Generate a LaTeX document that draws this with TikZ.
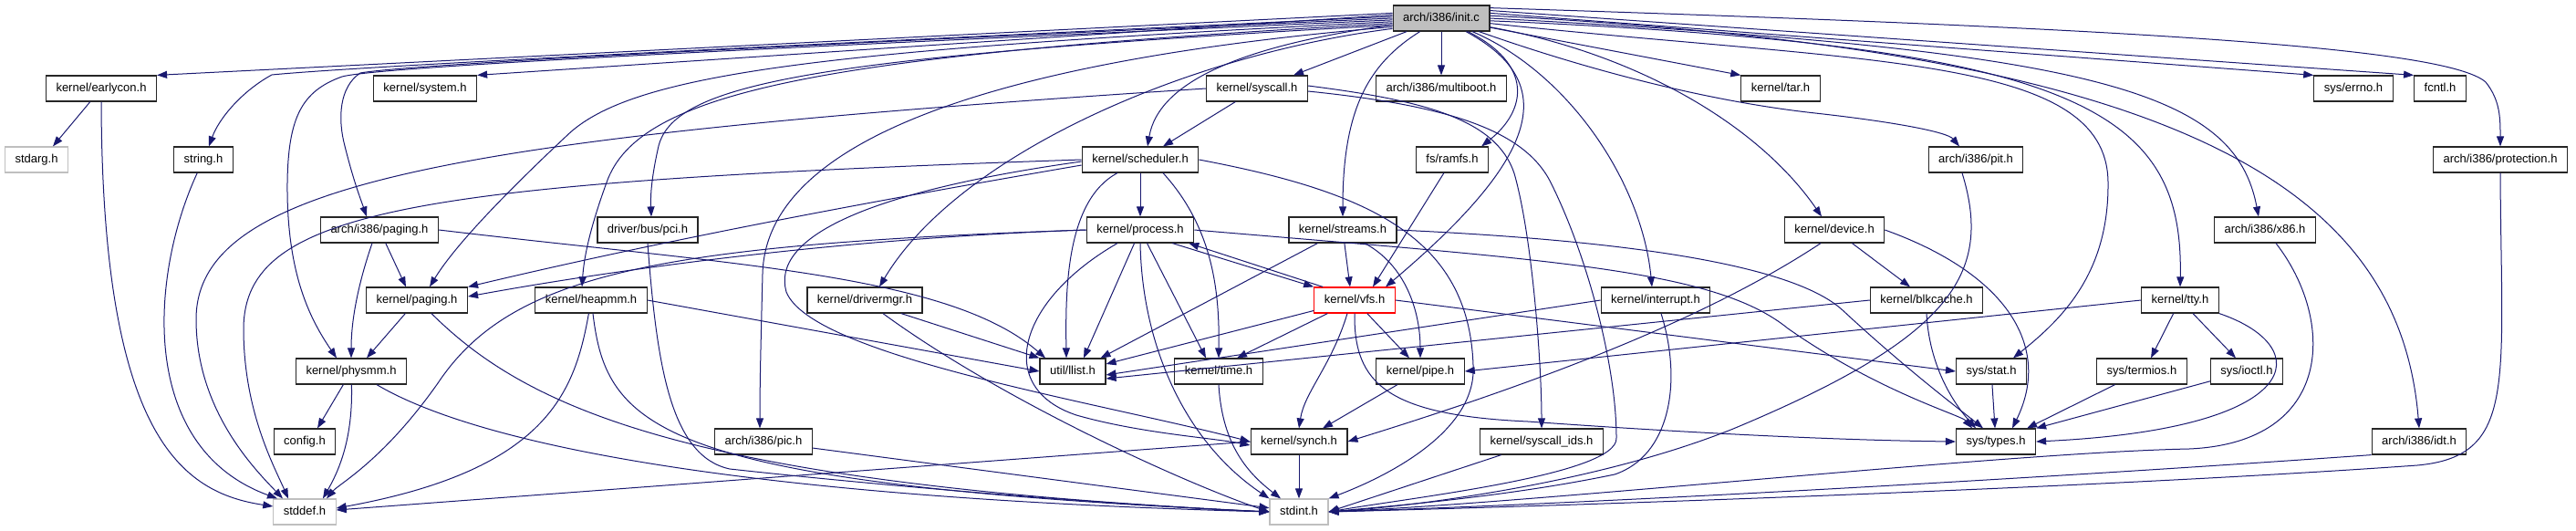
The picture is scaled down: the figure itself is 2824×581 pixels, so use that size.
\documentclass[tikz,border=0pt]{standalone}
\usepackage{fontspec}
\newfontfamily\doxfont{Liberation Sans}
\usetikzlibrary{arrows.meta}
\definecolor{edgeblue}{HTML}{191970}
\definecolor{boxgrey}{HTML}{BFBFBF}
\tikzset{
	hdr/.style={draw=black!85, fill=white, line width=1.2pt, minimum height=28pt, inner xsep=11pt, inner ysep=0pt, text height=9.5pt, text depth=2.8pt, font=\doxfont\fontsize{13}{15}\selectfont},
	syshdr/.style={hdr, draw=boxgrey},
	roothdr/.style={hdr, fill=boxgrey},
	dep/.style={draw=edgeblue, line width=1pt, -{Triangle[length=11pt,width=8pt]}}
}

\begin{document}
\begin{tikzpicture}[x=1pt,y=-1pt]
			\useasboundingbox (0,0) rectangle (2824,581);

			\node[roothdr] (initc) at (1580,20) {arch/i386/init.c};

			\node[hdr] (earlycon) at (111,97) {kernel/earlycon.h};
			\node[hdr] (system) at (466,97) {kernel/system.h};
			\node[hdr] (syscall) at (1378,97) {kernel/syscall.h};
			\node[hdr] (multiboot) at (1580,97) {arch/i386/multiboot.h};
			\node[hdr] (tar) at (1952,97) {kernel/tar.h};
			\node[hdr] (errno) at (2580,97) {sys/errno.h};
			\node[hdr] (fcntl) at (2675,97) {fcntl.h};

			\node[syshdr] (stdarg) at (40,175) {stdarg.h};
			\node[hdr] (stringh) at (223,175) {string.h};
			\node[hdr] (scheduler) at (1250,175) {kernel/scheduler.h};
			\node[hdr] (ramfs) at (1592,175) {fs/ramfs.h};
			\node[hdr] (pit) at (2166,175) {arch/i386/pit.h};
			\node[hdr] (protection) at (2741,175) {arch/i386/protection.h};

			\node[hdr] (archpaging) at (416,252) {arch/i386/paging.h};
			\node[hdr] (pci) at (710,252) {driver/bus/pci.h};
			\node[hdr] (process) at (1250,252) {kernel/process.h};
			\node[hdr] (streams) at (1472,252) {kernel/streams.h};
			\node[hdr] (device) at (2011,252) {kernel/device.h};
			\node[hdr] (x86) at (2483,252) {arch/i386/x86.h};

			\node[hdr] (kpaging) at (457,329) {kernel/paging.h};
			\node[hdr] (heapmm) at (648,329) {kernel/heapmm.h};
			\node[hdr] (drivermgr) at (948,329) {kernel/drivermgr.h};
			\node[hdr, draw=red] (vfs) at (1485,329) {kernel/vfs.h};
			\node[hdr] (interrupt) at (1815,329) {kernel/interrupt.h};
			\node[hdr] (blkcache) at (2112,329) {kernel/blkcache.h};
			\node[hdr] (tty) at (2390,329) {kernel/tty.h};

			\node[hdr] (physmm) at (385,407) {kernel/physmm.h};
			\node[hdr] (llist) at (1176,407) {util/llist.h};
			\node[hdr] (time) at (1336,407) {kernel/time.h};
			\node[hdr] (pipe) at (1557,407) {kernel/pipe.h};
			\node[hdr] (stat) at (2183,407) {sys/stat.h};
			\node[hdr] (termios) at (2348,407) {sys/termios.h};
			\node[hdr] (ioctl) at (2463,407) {sys/ioctl.h};

			\node[hdr] (config) at (334,484) {config.h};
			\node[hdr] (pic) at (837,484) {arch/i386/pic.h};
			\node[hdr] (synch) at (1424,484) {kernel/synch.h};
			\node[hdr] (syscallids) at (1690,484) {kernel/syscall\_ids.h};
			\node[hdr] (types) at (2188,484) {sys/types.h};
			\node[hdr] (idt) at (2652,484) {arch/i386/idt.h};

			\node[syshdr] (stddef) at (334,561) {stddef.h};
			\node[syshdr] (stdint) at (1424,561) {stdint.h};

			\draw[dep] (initc.174) -- (earlycon.north east);
			\draw[dep] (initc.176) -- (system.north east);
			\draw[dep] (initc.178) .. controls (900,48) and (400,72) .. (298,82) .. controls (265,100) and (240,130) .. ([xshift=6pt]stringh.north);
			\draw[dep] (initc.180) .. controls (900,48) and (450,70) .. (395,80) .. controls (372,95) and (370,130) .. (378,160) .. controls (388,200) and (396,220) .. ([xshift=-14pt]archpaging.north);
			\draw[dep] (initc.182) .. controls (900,50) and (420,72) .. (375,84) .. controls (330,100) and (316,130) .. (315,200) .. controls (314,300) and (340,350) .. ([xshift=-16pt]physmm.north);
			\draw[dep] (initc.184) .. controls (900,55) and (690,80) .. (620,150) .. controls (540,225) and (495,275) .. ([xshift=14pt]kpaging.north);
			\draw[dep] (initc.186) .. controls (900,60) and (700,100) .. (665,200) .. controls (645,255) and (640,285) .. ([xshift=-10pt]heapmm.north);
			\draw[dep] (initc.188) .. controls (900,62) and (740,90) .. (722,160) .. controls (714,195) and (713,215) .. ([xshift=4pt]pci.north);
			\draw[dep] (initc.190) .. controls (1100,65) and (840,150) .. (836,300) .. controls (834,380) and (833,420) .. ([xshift=-4pt]pic.north);
			\draw[dep] (initc.192) .. controls (1300,60) and (1050,170) .. ([xshift=16pt]drivermgr.north);
			\draw[dep] (initc) -- ([xshift=-16pt]syscall.north east);
			\draw[dep] (initc) .. controls (1360,50) and (1270,90) .. ([xshift=8pt]scheduler.north);
			\draw[dep] (initc) -- (multiboot);
			\draw[dep] (initc) .. controls (1500,70) and (1472,120) .. (streams.north);
			\draw[dep] (initc) .. controls (1680,70) and (1675,120) .. ([xshift=-8pt]ramfs.north east);
			\draw[dep] (initc) .. controls (1710,90) and (1690,170) .. ([xshift=34pt]vfs.north);
			\draw[dep] (initc) .. controls (1720,80) and (1800,200) .. ([xshift=-4pt]interrupt.north);
			\draw[dep] (initc) -- (tar.north west);
			\draw[dep] (initc) .. controls (1800,60) and (1930,140) .. ([xshift=-14pt]device.north);
			\draw[dep] (initc) .. controls (1750,80) and (1880,112) .. (1990,124) .. controls (2080,134) and (2135,145) .. ([xshift=-18pt]pit.north);
			\draw[dep] (initc.-6) .. controls (2050,70) and (2310,60) .. (2311,200) .. controls (2312,300) and (2260,350) .. ([xshift=24pt]stat.north);
			\draw[dep] (initc.-3) .. controls (2280,50) and (2394,120) .. (tty.north);
			\draw[dep] (initc.0) .. controls (2300,55) and (2450,100) .. ([xshift=-7pt]x86.north);
			\draw[dep] (initc.3) .. controls (2380,55) and (2630,200) .. (idt.north);
			\draw[dep] (initc.6) -- (errno.north west);
			\draw[dep] (initc.9) -- (fcntl.north west);
			\draw[dep] (initc.12) .. controls (2300,30) and (2680,50) .. (2725,90) .. controls (2741,110) and (2741,130) .. (protection.north);

			\draw[dep] (earlycon) -- ([xshift=18pt]stdarg.north);
			\draw[dep] (earlycon.south) .. controls (112,480) and (200,540) .. ([yshift=6pt]stddef.west);
			\draw[dep] (stringh) .. controls (165,300) and (150,490) .. ([xshift=-30pt]stddef.north);
			\draw[dep] (syscall.west) .. controls (500,150) and (215,200) .. (215,350) .. controls (215,450) and (280,515) .. ([xshift=-24pt]stddef.north);
			\draw[dep] (scheduler.west) .. controls (450,200) and (268,230) .. (267,360) .. controls (267,450) and (300,510) .. ([xshift=-18pt]stddef.north);
			\draw[dep] (physmm) .. controls (387,480) and (372,515) .. ([xshift=20pt]stddef.north);
			\draw[dep] (physmm) -- ([xshift=14pt]config.north);
			\draw[dep] (process.west) .. controls (720,268) and (560,300) .. (480,420) .. controls (420,505) and (372,530) .. ([xshift=24pt]stddef.north);
			\draw[dep] (heapmm) .. controls (630,430) and (600,515) .. ([yshift=4pt]stddef.east);
			\draw[dep] (synch.west) -- ([yshift=2pt]stddef.east);

			\draw[dep] (archpaging) -- ([xshift=-12pt]kpaging.north);
			\draw[dep] ([xshift=-8pt]archpaging.south) .. controls (393,310) and (385,350) .. (physmm.north);
			\draw[dep] (archpaging.east) .. controls (800,290) and (1040,300) .. ([xshift=-30pt]llist.north);
			\draw[dep] (kpaging) -- ([xshift=17pt]physmm.north);
			\draw[dep] ([xshift=16pt]kpaging.south) .. controls (580,450) and (760,530) .. (stdint.west);
			\draw[dep] ([xshift=28pt]physmm.south) .. controls (520,485) and (800,545) .. (stdint.west);
			\draw[dep] (heapmm.east) -- (llist.west);
			\draw[dep] ([xshift=2pt]heapmm.south) .. controls (665,470) and (720,530) .. (stdint.west);
			\draw[dep] (pci.south) .. controls (720,400) and (735,500) .. (800,514) .. controls (1000,536) and (1250,555) .. (stdint.west);
			\draw[dep] ([xshift=40pt]drivermgr.south) -- (llist.north west);
			\draw[dep] ([xshift=20pt]drivermgr.south) .. controls (1100,440) and (1300,530) .. (stdint.west);
			\draw[dep] (pic) -- (stdint);
			\draw[dep] (synch) -- (stdint);

			\draw[dep] (syscall) -- ([xshift=25pt]scheduler.north);
			\draw[dep] (scheduler) -- (process);
			\draw[dep] ([xshift=-25pt]scheduler.south) .. controls (1168,220) and (1168,320) .. ([xshift=-7pt]llist.north);
			\draw[dep] ([xshift=25pt]scheduler.south) .. controls (1330,250) and (1337,320) .. (time.north);
			\draw[dep] ([yshift=-6pt]scheduler.west) .. controls (900,230) and (700,270) .. (kpaging.north east);
			\draw[dep] ([yshift=-2pt]scheduler.west) .. controls (950,210) and (845,260) .. (862,320) .. controls (890,390) and (1200,440) .. (synch.west);
			\draw[dep] (scheduler.east) .. controls (1500,210) and (1610,260) .. (1615,400) .. controls (1620,480) and (1500,530) .. (stdint.north east);

			\draw[dep] (process) -- ([xshift=12pt]llist.north);
			\draw[dep] (process) -- ([xshift=-14pt]time.north);
			\draw[dep] ([xshift=-24pt]process.south east) -- (vfs.north west);
			\draw[dep] ([xshift=10pt]vfs.north west) -- ([xshift=-6pt]process.south east);
			\draw[dep] (process.west) .. controls (900,262) and (650,300) .. ([yshift=4pt]kpaging.east);
			\draw[dep] ([xshift=-25pt]process.south) .. controls (1115,330) and (1090,425) .. (1180,455) .. controls (1250,475) and (1330,480) .. ([yshift=-4pt]synch.west);
			\draw[dep] (process.south) .. controls (1252,380) and (1300,485) .. (stdint.north west);
			\draw[dep] (process.east) .. controls (1700,285) and (1880,295) .. (1960,360) .. controls (2060,430) and (2150,455) .. ([xshift=-26pt]types.north);

			\draw[dep] (streams) -- ([xshift=-6pt]llist.north east);
			\draw[dep] (streams) -- ([xshift=-5pt]vfs.north);
			\draw[dep] ([xshift=24pt]streams.south) .. controls (1540,290) and (1557,340) .. (pipe.north);
			\draw[dep] (streams.east) .. controls (1750,262) and (1960,285) .. (2020,340) .. controls (2090,405) and (2150,450) .. ([xshift=-14pt]types.north);
			\draw[dep] (ramfs) -- ([xshift=20pt]vfs.north);

			\draw[dep] (vfs) -- ([yshift=8pt]llist.east);
			\draw[dep] (vfs) -- ([xshift=20pt]time.north);
			\draw[dep] ([xshift=-8pt]vfs.south) .. controls (1460,400) and (1430,430) .. (synch.north);
			\draw[dep] (vfs) -- ([xshift=-12pt]pipe.north);
			\draw[dep] (vfs.south) .. controls (1484,420) and (1520,455) .. (1675,462) .. controls (1900,478) and (2050,483) .. (types.west);
			\draw[dep] (vfs.east) -- (stat.west);
			\draw[dep] (pipe) -- ([xshift=26pt]synch.north);
			\draw[dep] (time.south) .. controls (1340,490) and (1370,520) .. ([xshift=-20pt]stdint.north);

			\draw[dep] ([yshift=3pt]syscall.east) .. controls (1560,110) and (1640,130) .. (1660,190) .. controls (1680,260) and (1690,400) .. (syscallids.north);
			\draw[dep] ([yshift=-3pt]syscall.east) .. controls (1580,115) and (1670,140) .. (1700,200) .. controls (1740,280) and (1772,400) .. (1772,480) .. controls (1774,520) and (1550,545) .. (stdint.east);
			\draw[dep] (syscallids) -- (stdint.east);
			\draw[dep] (interrupt.west) -- ([yshift=-4pt]llist.east);
			\draw[dep] ([xshift=6pt]interrupt.south) .. controls (1845,420) and (1830,500) .. (1770,520) .. controls (1650,545) and (1520,555) .. (stdint.east);

			\draw[dep] (device) -- ([xshift=-18pt]blkcache.north);
			\draw[dep] ([xshift=-15pt]device.south) .. controls (1900,330) and (1750,400) .. (synch.east);
			\draw[dep] (device.east) .. controls (2200,300) and (2250,380) .. ([xshift=18pt]types.north);
			\draw[dep] (blkcache.west) -- ([yshift=-8pt]llist.east);
			\draw[dep] (blkcache.south) .. controls (2115,400) and (2140,440) .. ([xshift=-22pt]types.north);
			\draw[dep] ([xshift=-15pt]pit.south) .. controls (2185,300) and (2140,370) .. (1900,470) .. controls (1750,530) and (1550,555) .. (stdint.east);

			\draw[dep] (stat) -- (types);
			\draw[dep] (tty) -- ([xshift=10pt]termios.north);
			\draw[dep] (tty) -- ([xshift=-12pt]ioctl.north);
			\draw[dep] (tty.south east) .. controls (2540,380) and (2530,470) .. (types.east);
			\draw[dep] (tty.west) -- (pipe.east);
			\draw[dep] (termios) -- ([xshift=-10pt]types.north east);
			\draw[dep] (ioctl) -- (types.north east);

			\draw[dep] ([xshift=12pt]x86.south) .. controls (2560,350) and (2560,485) .. (2400,492) .. controls (2200,496) and (1700,550) .. (stdint.east);
			\draw[dep] (idt.south west) .. controls (2300,520) and (1800,550) .. (stdint.east);
			\draw[dep] (protection.south) .. controls (2742,420) and (2760,500) .. (2650,510) .. controls (2300,535) and (1700,555) .. (stdint.east);
		\end{tikzpicture}
\end{document}
